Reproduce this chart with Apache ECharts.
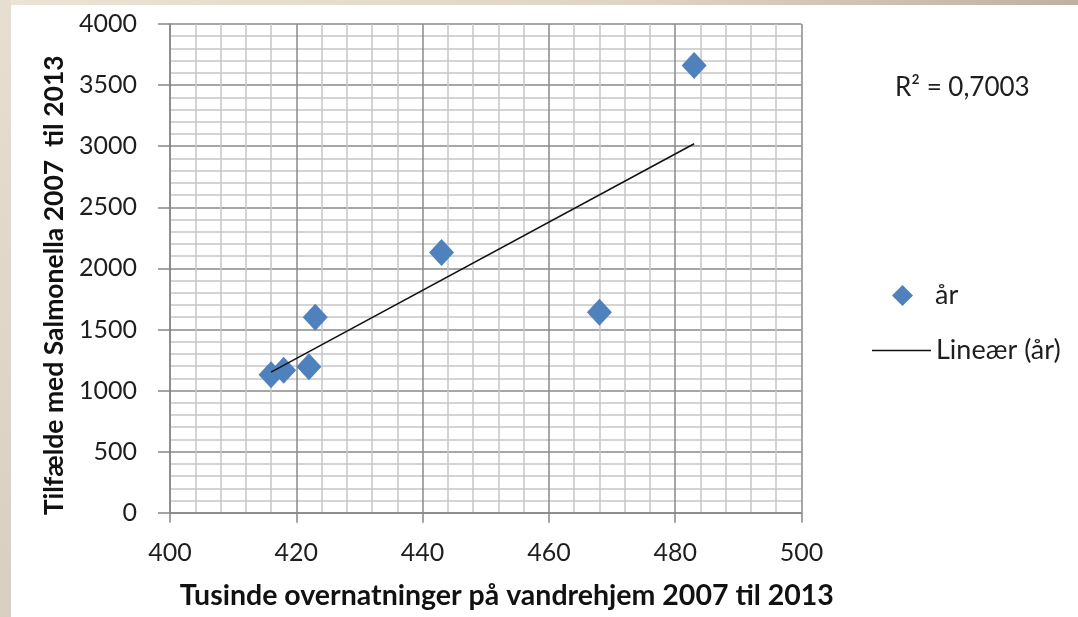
<!DOCTYPE html>
<html>
<head>
<meta charset="utf-8">
<script src="https://cdn.jsdelivr.net/npm/echarts@6/dist/echarts.min.js"></script>
<style>
html,body{margin:0;padding:0;width:1078px;height:617px;overflow:hidden;}
body{background:linear-gradient(90deg,#ebe4d6 0%,#ddd4c4 60%,#bdb2a1 100%);position:relative;}
#side{position:absolute;left:0;top:0;width:11px;height:617px;background:linear-gradient(180deg,#e6dfd1 0%,#ddd6c8 60%,#d6cfc2 100%);}
#chart{position:absolute;left:11px;top:5px;width:1067px;height:612px;background:#fff;}
</style>
</head>
<body>
<div id="side"></div>
<div id="chart"></div>
<script>
// Data
const overnatninger = [416, 418, 422, 423, 443, 468, 483];   // tusinde
const salmonella    = [1130, 1165, 1195, 1600, 2130, 1640, 3660];
const trendX = [416, 483];
const trendY = [1150, 3020];
const xTicks = { min: 400, max: 500, interval: 20 };
const yTicks = { min: 0, max: 4000, interval: 500 };
const r2Text = 'R² = 0,7003';

const FONT = 'Lato';
const chart = echarts.init(document.getElementById('chart'));
const scatterData = overnatninger.map((x, i) => [x, salmonella[i]]);
const trendData = trendX.map((x, i) => [x, trendY[i]]);

chart.setOption({
  animation: false,
  backgroundColor: '#ffffff',
  textStyle: { fontFamily: FONT },
  grid: { left: 159, top: 19, width: 631.5, height: 488.7, containLabel: false },
  xAxis: {
    type: 'value', min: xTicks.min, max: xTicks.max, interval: xTicks.interval,
    name: 'Tusinde overnatninger på vandrehjem 2007 til 2013',
    nameLocation: 'middle', nameGap: 69,
    nameTextStyle: { fontFamily: FONT, fontWeight: 'bold', fontSize: 28.5, color: '#111', padding: [0, 0, 0, 42] },
    axisLine: { show: true, lineStyle: { color: '#868686', width: 1.5 } },
    axisTick: { show: true, inside: false, length: 10, lineStyle: { color: '#868686', width: 1.5 } },
    axisLabel: { margin: 28, fontSize: 25, color: '#1e1e1e', fontFamily: FONT, formatter: v => String(v) },
    splitLine: { show: true, lineStyle: { color: '#8a8a8a', width: 1.5 } },
    minorTick: { show: false, splitNumber: 5 },
    minorSplitLine: { show: true, lineStyle: { color: '#c6c6c6', width: 1.5 } }
  },
  yAxis: {
    type: 'value', min: yTicks.min, max: yTicks.max, interval: yTicks.interval,
    name: 'Tilfælde med Salmonella 2007  til 2013',
    nameLocation: 'middle', nameGap: 100,
    nameTextStyle: { fontFamily: FONT, fontWeight: 'bold', fontSize: 26.5, color: '#111', padding: [0, 34, 0, 0] },
    axisLine: { show: true, lineStyle: { color: '#868686', width: 1.5 } },
    axisTick: { show: true, inside: false, length: 12, lineStyle: { color: '#868686', width: 1.5 } },
    axisLabel: { margin: 33, fontSize: 25, color: '#1e1e1e', fontFamily: FONT, formatter: v => String(v) },
    splitLine: { show: true, lineStyle: { color: '#8a8a8a', width: 1.5 } },
    minorTick: { show: false, splitNumber: 5 },
    minorSplitLine: { show: true, lineStyle: { color: '#c6c6c6', width: 1.5 } }
  },
  legend: [
    {
      data: [{ name: 'år', icon: 'diamond' }],
      left: 876, top: 272, orient: 'vertical',
      itemWidth: 21, itemHeight: 21,
      textStyle: { fontSize: 27, color: '#1e1e1e', fontFamily: FONT, padding: [0, 0, 0, 17] }
    },
    {
      data: [{ name: 'Lineær (år)', icon: 'rect', itemStyle: { color: '#111' } }],
      left: 856, top: 327, orient: 'vertical',
      itemWidth: 59, itemHeight: 1.5,
      textStyle: { fontSize: 27, color: '#1e1e1e', fontFamily: FONT, padding: [0, 0, 0, 0] }
    }
  ],
  graphic: [
    {
      type: 'text', left: 884, top: 70,
      style: { text: r2Text, fontSize: 26, fontFamily: FONT, fill: '#1e1e1e' }
    }
  ],
  series: [
    {
      name: 'år', type: 'scatter', data: scatterData,
      symbol: 'diamond', symbolSize: [25, 27],
      itemStyle: { color: '#4f81bd', opacity: 1 }, z: 3
    },
    {
      name: 'Lineær (år)', type: 'line', data: trendData,
      symbol: 'none', showSymbol: false,
      lineStyle: { color: '#111', width: 1.5 }, itemStyle: { color: '#111' }, z: 4
    }
  ]
});
</script>
</body>
</html>
